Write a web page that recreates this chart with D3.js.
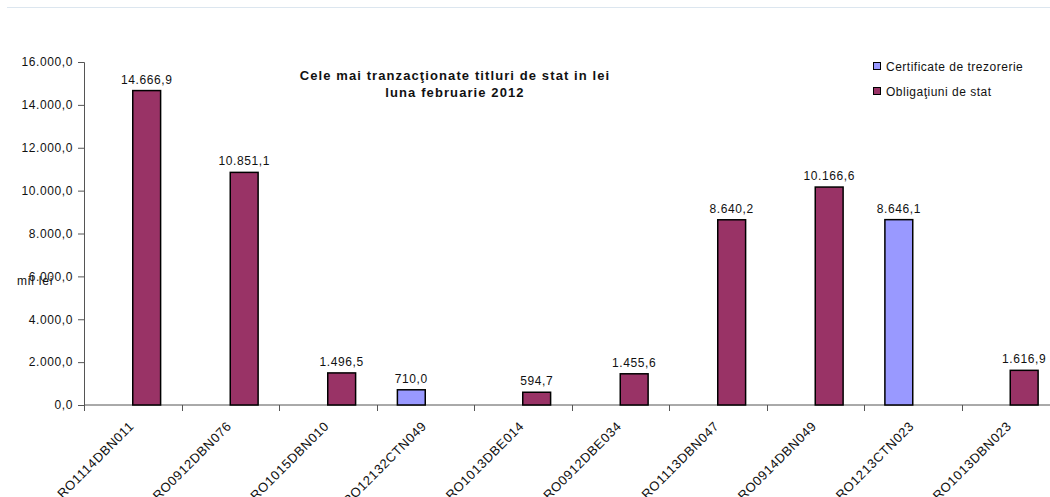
<!DOCTYPE html>
<html>
<head>
<meta charset="utf-8">
<script src="https://cdn.jsdelivr.net/npm/d3@7"></script>
<style>
	body { margin: 0; background: #fff; }
	text { font-family: "Liberation Sans", Arial, sans-serif; fill: #111; }
</style>
</head>
<body>
<div id="chart"></div>
<script>
// data
var categories = ["RO1114DBN011", "RO0912DBN076", "RO1015DBN010", "RO12132CTN049", "RO1013DBE014",
	"RO0912DBE034", "RO1113DBN047", "RO0914DBN049", "RO1213CTN023", "RO1013DBN023"];
var seriesNames = ["Certificate de trezorerie", "Obligaţiuni de stat"];
var certificate = [null, null, null, 710.0, null, null, null, null, 8646.1, null];
var obligatiuni = [14666.9, 10851.1, 1496.5, null, 594.7, 1455.6, 8640.2, 10166.6, null, 1616.9];
var yTicks = [0, 2000, 4000, 6000, 8000, 10000, 12000, 14000, 16000];
var colors = ["#9999FF", "#993366"];

var width = 1050, height = 497;

var svg = d3.select("#chart")
	.append("svg")
	.attr("width", width)
	.attr("height", height);

// light frame line at the top
svg.append("line")
	.attr("x1", 7).attr("x2", width)
	.attr("y1", 7.5).attr("y2", 7.5)
	.style("stroke", "#dce6ef")
	.style("stroke-width", 1);

var ro = d3.formatLocale({ decimal: ",", thousands: ".", grouping: [3], currency: ["", ""] });
var fmt = ro.format(",.1f");

// x scales: one band per category, two slots inside (gap width 150%)
var x = d3.scaleBand()
	.domain(categories)
	.range([84, 1059])
	.padding(0);
var x1 = d3.scaleBand()
	.domain(seriesNames)
	.range([0, x.bandwidth()])
	.paddingInner(0)
	.paddingOuter(0.75);

var y = d3.scaleLinear()
	.domain([0, 16000])
	.range([405, 62]);

// rows for bars
var rows = [];
categories.forEach(function (c, i) {
	if (certificate[i] != null) rows.push({ cat: c, s: 0, v: certificate[i] });
	if (obligatiuni[i] != null) rows.push({ cat: c, s: 1, v: obligatiuni[i] });
});

// y axis
var yAxis = svg.append("g")
	.attr("transform", "translate(84,0)")
	.call(d3.axisLeft(y).tickValues(yTicks).tickFormat(fmt).tickSize(6).tickPadding(5));
yAxis.selectAll("line, path").style("stroke", "#555");
yAxis.selectAll("text")
	.style("font-size", "12px")
	.style("letter-spacing", "0.6px")
	.style("font-family", "Liberation Sans, Arial, sans-serif")
	.attr("fill", "#111");

// x axis: ticks at category boundaries
var xAxis = svg.append("g")
	.attr("transform", "translate(0,405)");
xAxis.append("line")
	.attr("x1", 84).attr("x2", 1059)
	.style("stroke", "#555");
xAxis.selectAll(".tk")
	.data(categories.slice(1))
	.enter()
	.append("line")
	.attr("x1", function (d) { return Math.round(x(d)) + 0.5; })
	.attr("x2", function (d) { return Math.round(x(d)) + 0.5; })
	.attr("y1", 0).attr("y2", 6)
	.style("stroke", "#555");
xAxis.append("line")
	.attr("x1", 84.5).attr("x2", 84.5).attr("y1", 0).attr("y2", 6)
	.style("stroke", "#555");

xAxis.selectAll(".lbl")
	.data(categories)
	.enter()
	.append("text")
	.attr("text-anchor", "end")
	.attr("transform", function (d) {
		return "translate(" + (x(d) + x.bandwidth() / 2 + 2) + ",22) rotate(-45)";
	})
	.style("font-size", "13px")
	.style("letter-spacing", "0.6px")
	.text(function (d) { return d; });

// bars
svg.selectAll(".bar")
	.data(rows)
	.enter()
	.append("rect")
	.attr("x", function (d) { return x(d.cat) + x1(seriesNames[d.s]); })
	.attr("y", function (d) { return y(d.v); })
	.attr("width", x1.bandwidth())
	.attr("height", function (d) { return y(0) - y(d.v); })
	.style("fill", function (d) { return colors[d.s]; })
	.style("stroke", "#000")
	.style("stroke-width", 1.5);

// value labels
svg.selectAll(".val")
	.data(rows)
	.enter()
	.append("text")
	.attr("x", function (d) { return x(d.cat) + x1(seriesNames[d.s]) + x1.bandwidth() / 2; })
	.attr("y", function (d) { return y(d.v) - 7; })
	.attr("text-anchor", "middle")
	.style("font-size", "12px")
	.style("letter-spacing", "0.6px")
	.text(function (d) { return fmt(d.v); });

// axis unit (overlaps the 6.000,0 tick, as in the original)
svg.append("text")
	.attr("x", 17)
	.attr("y", 285)
	.style("font-size", "12px")
	.style("letter-spacing", "0.8px")
	.text("mil lei");

// title
svg.append("text")
	.attr("x", 455)
	.attr("y", 80)
	.attr("text-anchor", "middle")
	.style("font-size", "13px")
	.style("font-weight", "bold")
	.style("letter-spacing", "1.1px")
	.text("Cele mai tranzacţionate titluri de stat in lei");
svg.append("text")
	.attr("x", 455)
	.attr("y", 97)
	.attr("text-anchor", "middle")
	.style("font-size", "13px")
	.style("font-weight", "bold")
	.style("letter-spacing", "1.1px")
	.text("luna februarie 2012");

// legend
var legend = svg.selectAll(".leg")
	.data(seriesNames)
	.enter()
	.append("g")
	.attr("transform", function (d, i) { return "translate(873.5," + (62.5 + i * 25) + ")"; });
legend.append("rect")
	.attr("width", 7).attr("height", 7)
	.style("fill", function (d, i) { return colors[i]; })
	.style("stroke", "#000")
	.style("stroke-width", 1);
legend.append("text")
	.attr("x", 12.5)
	.attr("y", 8)
	.style("font-size", "12px")
	.style("letter-spacing", "0.5px")
	.text(function (d) { return d; });
</script>
</body>
</html>
